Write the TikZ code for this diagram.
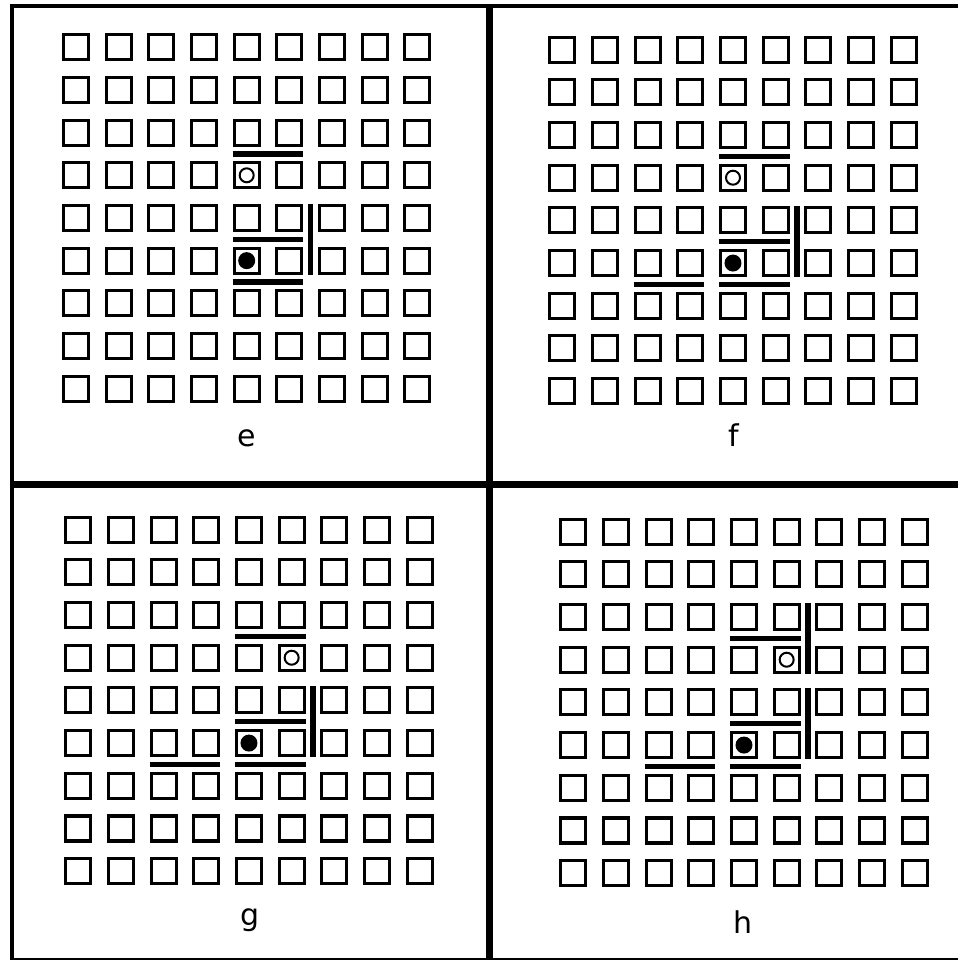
\documentclass[tikz,border=0pt]{standalone}
\usepackage{fontspec}
\setmainfont{DejaVu Sans}
\usetikzlibrary{calc}
\tikzset{
 cell/.style={rectangle,draw,line width=3.2pt,minimum size=25pt,inner sep=0,fill=white},
 wall/.style={line width=5.5pt},
 ring/.style={circle,draw,line width=2pt,minimum size=14pt,inner sep=0},
 dot/.style={circle,fill=black,minimum size=17pt,inner sep=0},
 tag/.style={anchor=base,font=\fontsize{30}{36}\selectfont},
 frameline/.style={line width=4pt}
}
\begin{document}
\begin{tikzpicture}[x=1pt,y=-1pt]
\path[use as bounding box] (0,0) rectangle (958,960);
% frame
\draw[frameline] (10,6) -- (958,6);
\draw[frameline] (12,4) -- (12,960);
\draw[frameline,line width=7pt] (489.5,4) -- (489.5,960);
\draw[frameline,line width=7pt] (10,484) -- (958,484);
\draw[frameline,line width=2pt] (10,959) -- (958,959);
% grids of cells
\foreach \p/\ox/\oy in {e/76/47.3,f/562.3/49.7,g/78.3/529.7,h/573.3/531.7}
 \foreach \r in {1,...,9}
  \foreach \c in {1,...,9}
   \node[cell] (\p-\r-\c) at ({\ox+(\c-1)*42.67},{\oy+(\r-1)*42.67}) {};
% panel e
\node[ring] (e-ring) at (e-4-5) {};
\node[dot] (e-dot) at (e-6-5) {};
\draw[wall] ($(e-3-5.south west)!.5!(e-4-5.north west)$) -- ($(e-3-6.south east)!.5!(e-4-6.north east)$);
\draw[wall] ($(e-5-5.south west)!.5!(e-6-5.north west)$) -- ($(e-5-6.south east)!.5!(e-6-6.north east)$);
\draw[wall] ($(e-6-5.south west)!.5!(e-7-5.north west)$) -- ($(e-6-6.south east)!.5!(e-7-6.north east)$);
\draw[wall] ($(e-5-6.north east)!.5!(e-5-7.north west)$) -- ($(e-6-6.south east)!.5!(e-6-7.south west)$);
\node[tag] (e-label) at (247,446) {e};
% panel f
\node[ring] (f-ring) at (f-4-5) {};
\node[dot] (f-dot) at (f-6-5) {};
\draw[wall] ($(f-3-5.south west)!.5!(f-4-5.north west)$) -- ($(f-3-6.south east)!.5!(f-4-6.north east)$);
\draw[wall] ($(f-5-5.south west)!.5!(f-6-5.north west)$) -- ($(f-5-6.south east)!.5!(f-6-6.north east)$);
\draw[wall] ($(f-6-5.south west)!.5!(f-7-5.north west)$) -- ($(f-6-6.south east)!.5!(f-7-6.north east)$);
\draw[wall] ($(f-6-3.south west)!.5!(f-7-3.north west)$) -- ($(f-6-4.south east)!.5!(f-7-4.north east)$);
\draw[wall] ($(f-5-6.north east)!.5!(f-5-7.north west)$) -- ($(f-6-6.south east)!.5!(f-6-7.south west)$);
\node[tag] (f-label) at (734,446.5) {f};
% panel g
\node[ring] (g-ring) at (g-4-6) {};
\node[dot] (g-dot) at (g-6-5) {};
\draw[wall] ($(g-3-5.south west)!.5!(g-4-5.north west)$) -- ($(g-3-6.south east)!.5!(g-4-6.north east)$);
\draw[wall] ($(g-5-5.south west)!.5!(g-6-5.north west)$) -- ($(g-5-6.south east)!.5!(g-6-6.north east)$);
\draw[wall] ($(g-6-5.south west)!.5!(g-7-5.north west)$) -- ($(g-6-6.south east)!.5!(g-7-6.north east)$);
\draw[wall] ($(g-6-3.south west)!.5!(g-7-3.north west)$) -- ($(g-6-4.south east)!.5!(g-7-4.north east)$);
\draw[wall] ($(g-5-6.north east)!.5!(g-5-7.north west)$) -- ($(g-6-6.south east)!.5!(g-6-7.south west)$);
\node[tag] (g-label) at (250,925) {g};
% panel h
\node[ring] (h-ring) at (h-4-6) {};
\node[dot] (h-dot) at (h-6-5) {};
\draw[wall] ($(h-3-5.south west)!.5!(h-4-5.north west)$) -- ($(h-3-6.south east)!.5!(h-4-6.north east)$);
\draw[wall] ($(h-5-5.south west)!.5!(h-6-5.north west)$) -- ($(h-5-6.south east)!.5!(h-6-6.north east)$);
\draw[wall] ($(h-6-5.south west)!.5!(h-7-5.north west)$) -- ($(h-6-6.south east)!.5!(h-7-6.north east)$);
\draw[wall] ($(h-6-3.south west)!.5!(h-7-3.north west)$) -- ($(h-6-4.south east)!.5!(h-7-4.north east)$);
\draw[wall] ($(h-3-6.north east)!.5!(h-3-7.north west)$) -- ($(h-4-6.south east)!.5!(h-4-7.south west)$);
\draw[wall] ($(h-5-6.north east)!.5!(h-5-7.north west)$) -- ($(h-6-6.south east)!.5!(h-6-7.south west)$);
\node[tag] (h-label) at (743,933) {h};
\end{tikzpicture}
\end{document}
